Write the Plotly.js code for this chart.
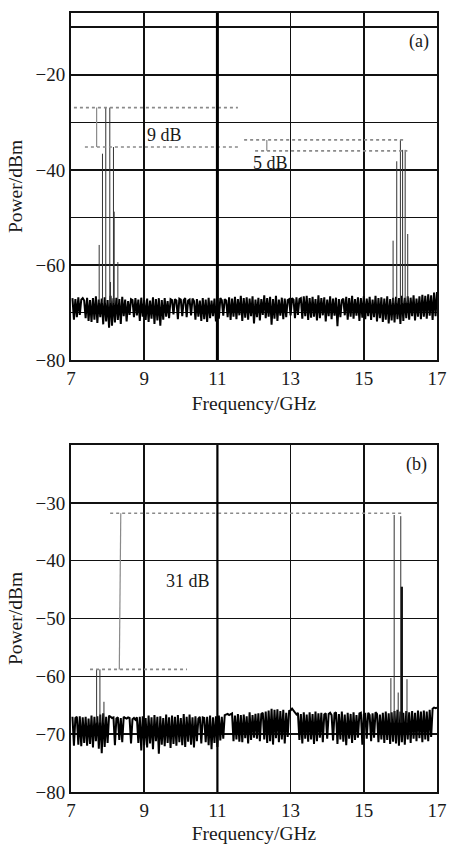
<!DOCTYPE html>
<html>
<head>
<meta charset="utf-8">
<script src="https://cdn.plot.ly/plotly-3.0.1.min.js"></script>
<style>html,body{margin:0;padding:0;background:#fff;}#chart{width:451px;height:844px;}</style>
</head>
<body>
<div id="chart"></div>
<script>
// ---------- data ----------
const sweepStart = 7.04;   // GHz, first analyzer sample
const sweepStep = 0.04;    // GHz between analyzer samples

const xTicks = [7, 9, 11, 13, 15, 17];
const yTicksA = [-80, -70, -60, -50, -40, -30, -20, -10];
const yLabelsA = ['\u221280', '', '\u221260', '', '\u221240', '', '\u221220', ''];
const yTicksB = [-80, -70, -60, -50, -40, -30];
const yLabelsB = ['\u221280', '\u221270', '\u221260', '\u221250', '\u221240', '\u221230'];

// noise floor, panel (a)
const noiseA = [
-67,-71.5,-67.2,-71,-66.8,-70.5,-67.3,-67,-67.5,-71.2,
-66.9,-71.8,-67.4,-72,-67,-71.5,-66.6,-72.2,-67.3,-71,
-67.1,-72.5,-66.8,-71.9,-67.4,-73.2,-66.5,-72.8,-67,-72.1,
-66.9,-71.6,-67.2,-72.4,-66.7,-70.8,-67.3,-71.9,-67.6,-70.5,
-67.2,-67.4,-71,-67,-70.6,-67.3,-71.8,-66.9,-70.9,-67.4,
-71.6,-67.1,-72,-67.5,-71.3,-66.8,-72.4,-67.2,-71.7,-67,
-72.8,-67.4,-71.5,-67,-70.9,-67.6,-71.2,-67.2,-67.4,-70.4,
-67.2,-67.5,-71.4,-67.1,-67.3,-70.8,-67.4,-67,-71,-67.5,
-67.3,-70.6,-67.1,-67.6,-71.5,-67.2,-70.9,-67.5,-71.8,-67,
-71.4,-67.3,-72,-66.9,-71.2,-67.5,-70.8,-67.1,-71.9,-67.4,
-71.3,-67,-67.4,-70.7,-67.2,-67.5,-71,-66.8,-71.6,-67.1,
-70.9,-66.7,-71.4,-67.2,-70.6,-66.5,-71.8,-67,-71.1,-66.8,
-71.5,-67.1,-70.8,-66.6,-72.3,-67.3,-71,-66.9,-71.7,-67.2,
-70.5,-66.4,-71.2,-67,-70.9,-66.7,-72.6,-67.2,-71.3,-66.5,
-71.8,-67.3,-70.7,-66.9,-71.4,-67.1,-71,-67.4,-67.2,-70.6,
-67,-67.3,-71.2,-66.8,-70.5,-67.2,-67,-71.3,-66.6,-70.8,
-66.5,-71.6,-67,-71.1,-66.7,-70.9,-67.2,-71.7,-66.4,-71.2,
-67,-70.6,-66.8,-71.9,-67.3,-70.8,-66.6,-71.4,-67.1,-70.7,
-66.9,-72.9,-67.2,-71,-67.4,-67.1,-70.6,-66.7,-71.5,-67,
-70.9,-66.5,-71.3,-67.2,-70.7,-66.8,-71.8,-67,-71.1,-66.6,
-71.4,-67.1,-70.8,-66.7,-71.6,-67.3,-71,-66.5,-71.9,-67,
-71.2,-66.8,-72,-67.1,-71.5,-66.6,-72.3,-67.2,-71.7,-66.9,
-72.1,-66.7,-71.4,-67,-72.4,-66.5,-71.8,-66.9,-71.2,-66.6,
-71.5,-66.9,-70.8,-66.4,-71.7,-67.1,-70.9,-66.6,-71.4,-66.3,
-70.9,-66.5,-71.3,-66.2,-70.7,-66.4,-71.6,-65.8,-70.8,-65.7
];

// noise floor, panel (b)
const noiseB = [
-67,-72,-67.2,-67,-71.8,-66.9,-72.1,-67.1,-71.5,-67,
-72,-67.3,-71.7,-66.8,-72.3,-67,-71.2,-66.9,-72.5,-66.6,
-73.3,-66.4,-72.2,-67,-71.5,-66.8,-67,-67.2,-67.1,-71.9,
-67.3,-67.1,-71,-67.2,-71.4,-67,-67.2,-67.3,-67.1,-67.2,
-71.6,-67.4,-67.2,-67.5,-67.1,-71.5,-67,-72.8,-66.9,-71.9,
-67.2,-72.3,-66.8,-71.6,-67.1,-72.6,-66.7,-71.2,-67,-73.4,
-66.9,-71.8,-67.2,-72.1,-66.6,-71.5,-67.1,-72.4,-66.8,-71.7,
-67,-72,-66.7,-71.4,-67.2,-71.9,-66.5,-72.2,-67,-71.3,
-66.6,-71.8,-67.1,-72.3,-66.9,-71.2,-67.3,-67,-71.6,-67.1,
-67.2,-71.4,-67,-71.9,-66.8,-72.6,-67.1,-71.5,-66.9,-72.2,
-66.8,-71.1,-67,-70.8,-66.7,-66.6,-66.5,-66.7,-66.6,-66.4,
-71.2,-66.8,-70.9,-66.5,-71.3,-66.7,-71.4,-66.6,-70.7,-66.9,
-71.6,-66.2,-71,-66.7,-70.6,-66.5,-70.8,-66.4,-71.2,-66.5,
-66.3,-70.9,-66.1,-71.5,-65.9,-71.2,-65.6,-71.8,-65.8,-70.7,
-65.7,-71.4,-66,-70.9,-65.8,-71.6,-66.3,-70.5,-66,-65.9,
-65.6,-66,-66.4,-66.6,-66.3,-71,-66.5,-71.6,-66.2,-70.8,
-66.6,-71.3,-66.2,-70.9,-66.5,-71.7,-66.1,-71.2,-66.4,-70.6,
-66.3,-71.4,-66.6,-66.4,-70.8,-66.5,-66.3,-66.7,-71.1,-66.4,
-66.2,-71.7,-66.5,-70.9,-66.1,-71.3,-66.6,-71.9,-66.3,-70.8,
-66.5,-71.5,-66.2,-71,-66.7,-70.6,-66.4,-66.3,-71.8,-66.6,
-66.5,-70.8,-66.3,-66.7,-71.2,-66.4,-70.6,-66.2,-66.5,-71.4,
-66.6,-70.9,-66.3,-71.5,-66.1,-71,-66.4,-71.7,-66.2,-71.3,
-66,-71.6,-65.8,-72,-66.1,-71.4,-66.3,-71.8,-66,-70.9,
-66.2,-71.5,-66,-70.8,-66.3,-71.2,-65.9,-70.7,-66.1,-71.4,
-65.9,-70.9,-66.1,-71.2,-65.8,-70.5,-65.6,-65.4,-65.5,-65.4
];

// spectral lines (GHz, dBm)
const peakFreqA = [7.77, 7.86, 7.95, 8.06, 8.08, 8.16, 8.18, 8.28, 15.80, 15.90, 16.00, 16.06, 16.13, 16.20];
const peakLevelA = [-55.8, -36.6, -26.9, -26.9, -63.6, -35.2, -48.8, -59.4, -54.9, -38.2, -33.7, -35.8, -35.8, -53.5];
const peakFreqB = [7.70, 7.79, 7.90, 15.74, 15.83, 15.94, 16.01, 16.18];
const peakLevelB = [-58.8, -58.8, -64.4, -60.3, -32.1, -62.8, -32.3, -60.5];
const strongFreqB = [16.04];
const strongLevelB = [-44.5];
const lineBase = -68;

// dotted reference levels: [from GHz, to GHz, level dBm]
const refLinesA = [[7.08, 11.56, -26.9], [7.38, 11.56, -35.2], [11.73, 16.15, -33.7], [12.03, 16.19, -36.0]];
const refLinesB = [[8.07, 16.06, -31.8], [7.52, 10.17, -58.8]];
// bracket connectors: [x top, level top, x bottom, level bottom]
const bracketsA = [[7.70, -26.9, 7.70, -35.2], [12.35, -33.7, 12.35, -36.0]];
const bracketsB = [[8.36, -31.8, 8.32, -58.8]];
// labels: [text, GHz, dBm]
const labelsA = [['9 dB', 9.55, -32.6], ['5 dB', 12.45, -38.5], ['(a)', 16.5, -13.1]];
const labelsB = [['31 dB', 10.2, -43.5], ['(b)', 16.45, -23.3]];
const centerFreq = 11;

// ---------- build ----------
const freqA = noiseA.map((_, i) => +(sweepStart + i * sweepStep).toFixed(3));
const freqB = noiseB.map((_, i) => +(sweepStart + i * sweepStep).toFixed(3));

function stems(fs, ls) {
  const x = [], y = [];
  fs.forEach((f, i) => { x.push(f, f, null); y.push(lineBase, ls[i], null); });
  return {x, y};
}
function refTrace(list, xa, ya) {
  const x = [], y = [];
  list.forEach(r => { x.push(r[0], r[1], null); y.push(r[2], r[2], null); });
  return {x, y, xaxis: xa, yaxis: ya, mode: 'lines', line: {color: '#8a8a8a', width: 1.6, dash: 'dot'}, hoverinfo: 'skip', showlegend: false};
}
function bracketTrace(list, xa, ya) {
  const x = [], y = [];
  list.forEach(b => { x.push(b[0], b[2], null); y.push(b[1], b[3], null); });
  return {x, y, xaxis: xa, yaxis: ya, mode: 'lines', line: {color: '#8a8a8a', width: 1.2}, hoverinfo: 'skip', showlegend: false};
}

const sA = stems(peakFreqA, peakLevelA);
const sB = stems(peakFreqB, peakLevelB);
const sB2 = stems(strongFreqB, strongLevelB);

const noiseLine = {color: '#000', width: 2};
const traces = [
  {x: freqA, y: noiseA, xaxis: 'x', yaxis: 'y', mode: 'lines', line: noiseLine, showlegend: false},
  {x: sA.x, y: sA.y, xaxis: 'x', yaxis: 'y', mode: 'lines', line: {color: '#333', width: 1}, showlegend: false},
  refTrace(refLinesA, 'x', 'y'),
  bracketTrace(bracketsA, 'x', 'y'),
  {x: freqB, y: noiseB, xaxis: 'x2', yaxis: 'y2', mode: 'lines', line: noiseLine, showlegend: false},
  {x: sB.x, y: sB.y, xaxis: 'x2', yaxis: 'y2', mode: 'lines', line: {color: '#333', width: 1}, showlegend: false},
  {x: sB2.x, y: sB2.y, xaxis: 'x2', yaxis: 'y2', mode: 'lines', line: {color: '#111', width: 2.2}, showlegend: false},
  refTrace(refLinesB, 'x2', 'y2'),
  bracketTrace(bracketsB, 'x2', 'y2')
];

const serif = 'Liberation Serif, Times New Roman, serif';
const tickFont = {family: serif, size: 19, color: '#1a1a1a'};
const titleFont = {family: serif, size: 19.5, color: '#1a1a1a'};

function xAxis(anchor) {
  return {
    anchor, domain: [0, 1], range: [7, 17], tickmode: 'array', tickvals: xTicks,
    ticktext: xTicks.map(String), tickfont: tickFont,
    showgrid: true, gridcolor: '#111', gridwidth: 1.6, zeroline: false,
    showline: true, linecolor: '#111', linewidth: 2, mirror: true, ticks: '',
    title: {text: 'Frequency/GHz', font: titleFont, standoff: 9}
  };
}
function yAxis(anchor, domain, range, vals, labels) {
  return {
    anchor, domain, range, tickmode: 'array', tickvals: vals, ticktext: labels, tickfont: tickFont,
    showgrid: true, gridcolor: '#111', gridwidth: 1.6, zeroline: false,
    showline: true, linecolor: '#111', linewidth: 2, mirror: true, ticks: '',
    title: {text: 'Power/dBm', font: titleFont, standoff: 8}
  };
}

const annotations = [];
labelsA.forEach(l => annotations.push({text: l[0], x: l[1], y: l[2], xref: 'x', yref: 'y', showarrow: false, font: {family: serif, size: 18, color: '#1a1a1a'}}));
labelsB.forEach(l => annotations.push({text: l[0], x: l[1], y: l[2], xref: 'x2', yref: 'y2', showarrow: false, font: {family: serif, size: 18, color: '#1a1a1a'}}));

const shapes = [
  {type: 'line', xref: 'x', yref: 'y domain', x0: centerFreq, x1: centerFreq, y0: 0, y1: 1, line: {color: '#000', width: 3}},
  {type: 'line', xref: 'x2', yref: 'y2 domain', x0: centerFreq, x1: centerFreq, y0: 0, y1: 1, line: {color: '#000', width: 2.2}}
];

const layout = {
  width: 451, height: 844,
  margin: {l: 71, r: 14, t: 13, b: 52},
  paper_bgcolor: '#fff', plot_bgcolor: '#fff',
  xaxis: xAxis('y'),
  yaxis: yAxis('x', [0.5546, 1], [-80, -7], yTicksA, yLabelsA),
  xaxis2: xAxis('y2'),
  yaxis2: yAxis('x2', [0, 0.4454], [-80, -20], yTicksB, yLabelsB),
  annotations, shapes,
  showlegend: false
};

Plotly.newPlot('chart', traces, layout, {displayModeBar: false, staticPlot: true});
</script>
</body>
</html>
